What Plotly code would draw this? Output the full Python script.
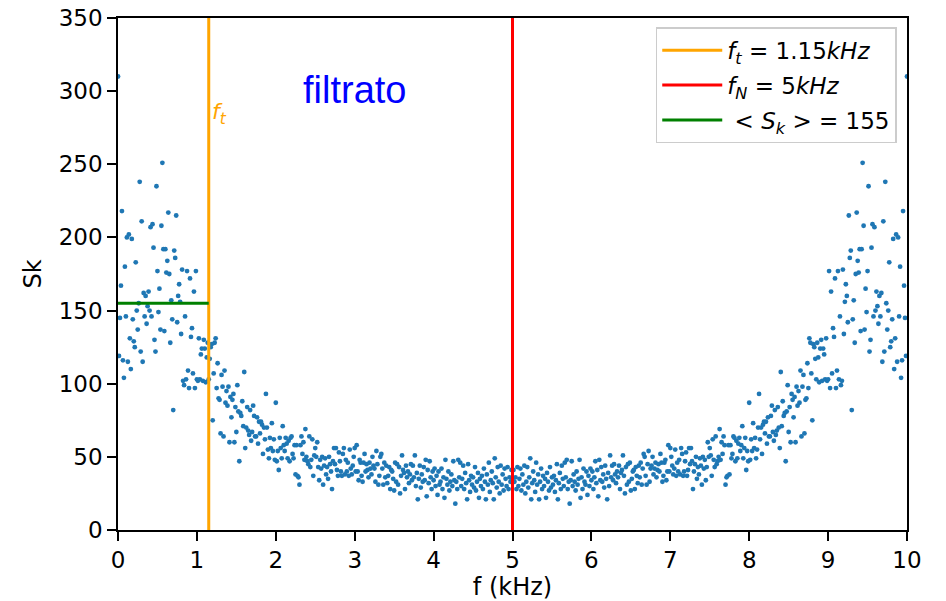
import plotly.graph_objects as go

# Power spectrum S_k of the filtered signal (0 .. 5 kHz half; the other half is its mirror image)
freq_step_khz = 0.0125
sk_half = [
    310, 119, 145, 167, 218, 116, 104, 180, 146, 200, 115, 202, 131, 110, 199, 144, 129, 125, 183, 150,
    137, 155, 238, 122, 211, 115, 162, 146, 160, 141, 153, 163, 150, 207, 146, 209, 193, 130, 122, 235,
    177, 149, 165, 137, 208, 251, 192, 136, 192, 176, 184, 217, 175, 128, 157, 144, 82, 191, 186, 215,
    142, 160, 168, 156, 134, 178, 102, 99, 146, 103, 177, 109, 97, 172, 132, 138, 107, 163, 97, 177,
    103, 102, 131, 103, 120, 124, 102, 130, 124, 101, 118, 128, 103, 117, 125, 127, 75, 107, 128, 131,
    97, 114, 90, 89, 66, 106, 98, 64, 109, 87, 95, 85, 98, 60, 91, 77, 89, 93, 60, 84,
    67, 99, 81, 47, 80, 78, 88, 71, 108, 56, 70, 84, 68, 65, 82, 61, 67, 85, 78, 64,
    64, 77, 59, 74, 66, 74, 72, 52, 70, 62, 93, 70, 55, 49, 63, 56, 73, 54, 62, 48,
    87, 47, 54, 41, 63, 56, 49, 71, 58, 54, 63, 59, 49, 61, 47, 63, 64, 52, 49, 58,
    38, 58, 37, 36, 31, 58, 64, 52, 60, 48, 69, 50, 47, 45, 64, 43, 48, 62, 37, 51,
    56, 50, 60, 43, 34, 48, 42, 50, 31, 44, 49, 38, 43, 35, 50, 45, 40, 28, 47, 56,
    45, 56, 41, 37, 53, 47, 40, 37, 52, 56, 38, 48, 40, 46, 37, 55, 42, 38, 44, 50,
    56, 40, 58, 40, 34, 48, 46, 37, 33, 46, 52, 40, 45, 41, 36, 46, 42, 38, 50, 44,
    42, 33, 54, 45, 31, 37, 50, 52, 42, 31, 46, 36, 44, 32, 37, 43, 28, 41, 40, 35,
    27, 46, 33, 45, 31, 43, 25, 37, 51, 41, 39, 28, 44, 36, 40, 32, 38, 45, 34, 44,
    36, 51, 30, 39, 21, 35, 44, 29, 38, 33, 43, 34, 48, 23, 41, 32, 47, 36, 28, 40,
    34, 42, 30, 37, 24, 40, 31, 33, 42, 28, 36, 22, 48, 35, 31, 40, 27, 33, 38, 30,
    47, 34, 18, 33, 28, 48, 36, 46, 30, 35, 44, 28, 39, 32, 21, 45, 34, 26, 37, 31,
    36, 29, 43, 27, 33, 39, 22, 35, 30, 37, 28, 42, 33, 21, 38, 31, 46, 26, 34, 40,
    32, 21, 49, 36, 29, 43, 33, 25, 44, 31, 38, 27, 42, 35, 30, 43, 28, 36, 33, 41,
    34,
]

f_cut_khz = 1.15      # filter cut-off f_t
f_nyquist_khz = 5.0   # Nyquist frequency f_N
sk_mean = 155         # mean of S_k below f_t

x_ticks = [0, 1, 2, 3, 4, 5, 6, 7, 8, 9, 10]
y_ticks = [0, 50, 100, 150, 200, 250, 300, 350]

# full spectrum: the real-signal FFT is symmetric about f_N
sk = sk_half + sk_half[-2::-1]
freq = [k * freq_step_khz for k in range(len(sk))]

fig = go.Figure()

fig.add_trace(go.Scatter(
    x=freq, y=sk, mode="markers",
    marker=dict(color="#1f77b4", size=4.8, line=dict(width=0)),
    showlegend=False,
))

fig.add_trace(go.Scatter(
    x=[f_cut_khz, f_cut_khz], y=[0, 350], mode="lines",
    line=dict(color="#FFA500", width=3),
    name="<i>f</i><sub><i>t</i></sub> = 1.15<i>kHz</i>",
    legendgroup="a",
))
fig.add_trace(go.Scatter(
    x=[f_nyquist_khz, f_nyquist_khz], y=[0, 350], mode="lines",
    line=dict(color="#FF0000", width=3),
    name="<i>f</i><sub><i>N</i></sub> = 5<i>kHz</i>",
    legendgroup="b",
))
fig.add_trace(go.Scatter(
    x=[0, f_cut_khz], y=[sk_mean, sk_mean], mode="lines",
    line=dict(color="#008000", width=3),
    name=" &lt; <i>S</i><sub><i>k</i></sub> &gt; = 155",
    legendgroup="c",
))

fig.add_annotation(
    x=f_cut_khz + 0.02, y=285, text="<i>f<sub>t</sub></i>", showarrow=False,
    xanchor="left", yanchor="middle",
    font=dict(family="DejaVu Sans", size=22, color="#FFA500"),
)
fig.add_annotation(
    x=3.0, y=301, text="filtrato", showarrow=False,
    xanchor="center", yanchor="middle",
    font=dict(family="Liberation Sans, Arial", size=38, color="#0000FF"),
)

axis_common = dict(
    showline=True, mirror=True, linecolor="black", linewidth=1.5,
    ticks="outside", ticklen=9, tickwidth=1.5, tickcolor="black",
    showgrid=False, zeroline=False, automargin=False,
    tickfont=dict(family="DejaVu Sans", size=23, color="black"),
)

fig.update_layout(
    width=946, height=601,
    margin=dict(l=118, r=39, t=18, b=71),
    paper_bgcolor="white", plot_bgcolor="white",
    font=dict(family="DejaVu Sans", size=24, color="black"),
    xaxis=dict(range=[0, 10], tickvals=x_ticks,
               title=dict(text="f (kHz)", font=dict(size=24), standoff=6),
               **axis_common),
    yaxis=dict(range=[0, 350], tickvals=y_ticks,
               title=dict(text="Sk", font=dict(size=24), standoff=10),
               **axis_common),
    legend=dict(
        x=0.987, y=0.982, xanchor="right", yanchor="top",
        bgcolor="white", bordercolor="#cccccc", borderwidth=1.5,
        font=dict(family="DejaVu Sans", size=23, color="black"),
        traceorder="grouped", tracegroupgap=2, itemwidth=60,
    ),
)

fig.write_html("out.html")
